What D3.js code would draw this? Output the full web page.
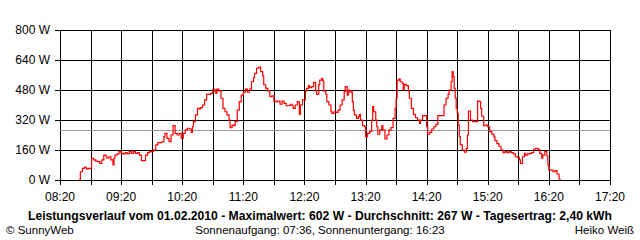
<!DOCTYPE html>
<html>
<head>
<meta charset="utf-8">
<script src="https://cdn.jsdelivr.net/npm/d3@7"></script>
<style>
  body { margin: 0; background: #fff; }
  text { font-family: "Liberation Sans", Arial, sans-serif; fill: #000; }
</style>
</head>
<body>
<div id="chart"></div>
<script>
// readings of the day (time, watts)
var times = ["08:38","08:40","08:42","08:44","08:46","08:48","08:50","08:51","08:53","08:55",
  "08:57","08:59","09:01","09:03","09:05","09:06","09:08","09:10","09:12","09:13",
  "09:14","09:16","09:18","09:20","09:22","09:24","09:26","09:28","09:30","09:32",
  "09:34","09:36","09:38","09:40","09:42","09:44","09:46","09:48","09:50","09:52",
  "09:54","09:56","09:58","10:00","10:02","10:03","10:05","10:07","10:09","10:11",
  "10:13","10:15","10:17","10:19","10:21","10:23","10:25","10:27","10:29","10:30",
  "10:31","10:33","10:35","10:37","10:38","10:40","10:42","10:44","10:46","10:48",
  "10:50","10:52","10:53","10:54","10:56","10:58","11:00","11:02","11:04","11:06",
  "11:07","11:09","11:11","11:12","11:14","11:16","11:18","11:20","11:22","11:24",
  "11:26","11:28","11:30","11:31","11:33","11:35","11:37","11:39","11:40","11:42",
  "11:44","11:46","11:48","11:50","11:52","11:54","11:56","11:58","12:00","12:02",
  "12:04","12:06","12:08","12:09","12:11","12:13","12:15","12:16","12:18","12:21",
  "12:22","12:24","12:25","12:27","12:29","12:31","12:32","12:34","12:35","12:37",
  "12:38","12:39","12:41","12:42","12:44","12:46","12:47","12:49","12:51","12:53",
  "12:55","12:57","12:59","13:00","13:02","13:03","13:04","13:06","13:07","13:08",
  "13:09","13:11","13:13","13:14","13:15","13:17","13:19","13:20","13:22","13:24",
  "13:26","13:27","13:28","13:30","13:31","13:32","13:34","13:36","13:37","13:39",
  "13:41","13:43","13:45","13:47","13:49","13:50","13:51","13:53","13:54","13:56",
  "13:57","13:58","14:00","14:02","14:03","14:05","14:07","14:09","14:11","14:13",
  "14:14","14:16","14:18","14:20","14:21","14:23","14:25","14:27","14:29","14:31",
  "14:33","14:36","14:37","14:39","14:41","14:42","14:44","14:45","14:46","14:47",
  "14:48","14:49","14:50","14:51","14:52","14:53","14:55","14:57","14:59","15:00",
  "15:01","15:03","15:05","15:07","15:09","15:10","15:12","15:13","15:14","15:16",
  "15:18","15:20","15:22","15:24","15:26","15:27","15:29","15:31","15:33","15:35",
  "15:37","15:39","15:41","15:43","15:45","15:47","15:49","15:51","15:52","15:54",
  "15:56","15:57","15:59","16:01","16:03","16:05","16:07","16:09","16:11","16:13",
  "16:14","16:16","16:18","16:19","16:20","16:22","16:24","16:26","16:28","16:30",
  "16:31"];
var watts = [0,44,62,68,59,62,62,116,107,101,
  98,89,107,133,128,116,124,107,80,116,
  133,139,151,142,139,146,139,151,142,151,
  142,146,133,103,103,133,146,151,151,160,
  187,199,199,204,231,249,222,205,240,290,
  249,240,249,222,249,267,276,272,254,284,
  311,347,382,379,386,400,427,457,457,462,
  485,475,462,485,475,436,382,364,347,320,
  279,293,290,311,373,418,453,468,485,468,
  485,524,546,569,596,602,578,556,508,489,
  475,444,449,421,418,421,404,421,409,396,
  396,404,396,382,400,418,350,400,427,475,
  489,503,493,498,521,475,457,507,533,542,
  528,475,457,418,400,364,355,364,361,373,
  400,427,471,498,453,480,468,475,418,373,
  347,329,338,350,320,290,284,231,249,258,
  320,391,364,320,284,244,267,290,267,219,
  240,267,279,329,382,436,533,539,524,516,
  480,510,503,475,436,382,350,332,320,302,
  320,343,343,284,244,254,272,284,297,343,
  343,343,400,436,457,480,524,578,551,489,
  436,382,355,293,231,187,160,148,169,240,
  368,320,311,311,311,421,418,382,340,290,
  293,284,258,245,230,210,194,180,160,146,
  151,146,151,146,139,124,121,107,89,124,
  142,133,139,142,146,164,169,164,142,116,
  133,151,128,80,53,53,44,50,32,4,
  0];
var average = 267;
var yTicks = [0, 160, 320, 480, 640, 800];
var xLabels = ["08:20","09:20","10:20","11:20","12:20","13:20","14:20","15:20","16:20","17:20"];
var title = "Leistungsverlauf vom 01.02.2010 - Maximalwert: 602 W - Durchschnitt: 267 W - Tagesertrag: 2,40 kWh";
var footLeft = "\u00a9 SunnyWeb";
var footMid = "Sonnenaufgang: 07:36, Sonnenuntergang: 16:23";
var footRight = "Heiko Wei\u00df";

var W = 640, H = 240;
var margin = {top: 30, right: 30, bottom: 60, left: 60},
    width = W - margin.left - margin.right,
    height = H - margin.top - margin.bottom;

function toMin(s) {
  var p = s.split(":");
  return +p[0] * 60 + +p[1];
}

var data = times.map(function(t, i) {
  return {t: toMin(t), w: watts[i]};
});

var x = d3.scaleLinear().domain([toMin(xLabels[0]), toMin(xLabels[xLabels.length - 1])]).range([0, width]);
var y = d3.scaleLinear().domain([0, 800]).range([height, 0]);

var svg = d3.select("#chart").append("svg")
    .attr("width", W)
    .attr("height", H);

var g = svg.append("g")
    .attr("transform", "translate(" + margin.left + "," + margin.top + ")");

// vertical grid every half hour, with a small tick below
var halfHours = d3.range(x.domain()[0], x.domain()[1] + 1, 30);
g.selectAll(".vgrid")
  .data(halfHours)
  .enter().append("line")
    .attr("class", "vgrid")
    .attr("x1", function(d) { return Math.round(x(d)) + 0.5; })
    .attr("x2", function(d) { return Math.round(x(d)) + 0.5; })
    .attr("y1", 0)
    .attr("y2", height + 5)
    .attr("stroke", "#000")
    .attr("shape-rendering", "crispEdges");

// horizontal grid with tick to the left
g.selectAll(".hgrid")
  .data(yTicks)
  .enter().append("line")
    .attr("class", "hgrid")
    .attr("x1", -5)
    .attr("x2", width)
    .attr("y1", function(d) { return Math.round(y(d)) + 0.5; })
    .attr("y2", function(d) { return Math.round(y(d)) + 0.5; })
    .attr("stroke", "#000")
    .attr("shape-rendering", "crispEdges");

// y labels
g.selectAll(".ylab")
  .data(yTicks)
  .enter().append("text")
    .attr("class", "ylab")
    .attr("x", -10)
    .attr("y", function(d) { return y(d) + 4; })
    .attr("text-anchor", "end")
    .style("font-size", "12px")
    .text(function(d) { return d + " W"; });

// x labels
g.selectAll(".xlab")
  .data(xLabels)
  .enter().append("text")
    .attr("class", "xlab")
    .attr("x", function(d) { return x(toMin(d)); })
    .attr("y", height + 21)
    .attr("text-anchor", "middle")
    .style("font-size", "12px")
    .text(function(d) { return d; });

// average line
g.append("line")
    .attr("x1", 0)
    .attr("x2", width)
    .attr("y1", Math.round(y(average)) + 0.5)
    .attr("y2", Math.round(y(average)) + 0.5)
    .attr("stroke", "#999")
    .attr("shape-rendering", "crispEdges");

// power line
var line = d3.line()
    .curve(d3.curveStepAfter)
    .x(function(d) { return x(d.t); })
    .y(function(d) { return y(d.w); });

g.append("path")
    .datum(data)
    .attr("d", line)
    .attr("fill", "none")
    .attr("stroke", "#ff0000")
    .attr("stroke-width", 1.2);

// footer texts
svg.append("text")
    .attr("x", 320)
    .attr("y", 220)
    .attr("text-anchor", "middle")
    .attr("textLength", 584)
    .attr("lengthAdjust", "spacingAndGlyphs")
    .style("font-size", "12px")
    .style("font-weight", "bold")
    .text(title);

svg.append("text")
    .attr("x", 6)
    .attr("y", 234)
    .style("font-size", "11.5px")
    .text(footLeft);

svg.append("text")
    .attr("x", 320)
    .attr("y", 234)
    .attr("text-anchor", "middle")
    .style("font-size", "11.5px")
    .text(footMid);

svg.append("text")
    .attr("x", 634)
    .attr("y", 234)
    .attr("text-anchor", "end")
    .style("font-size", "11.5px")
    .text(footRight);
</script>
</body>
</html>
